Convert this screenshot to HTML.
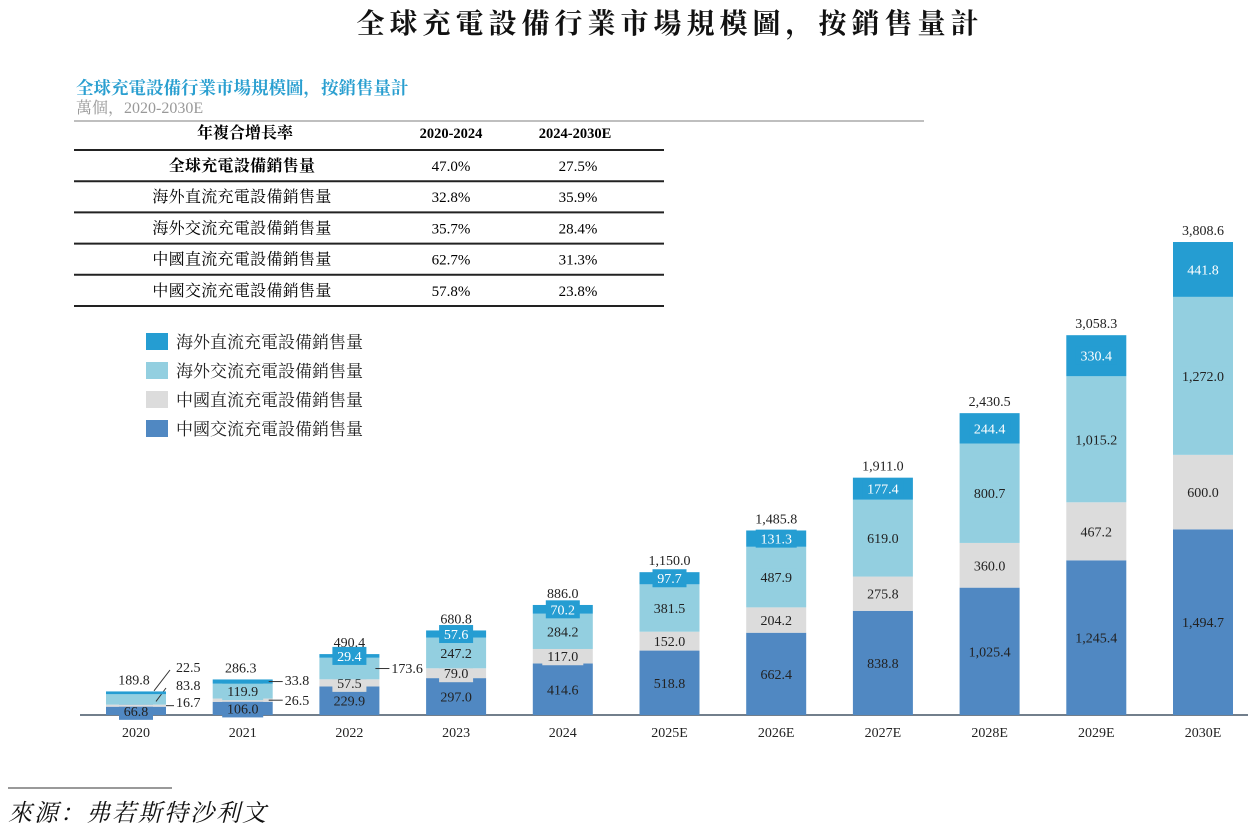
<!DOCTYPE html>
<html><head><meta charset="utf-8">
<style>
body{margin:0;background:#fff;width:1250px;height:832px;overflow:hidden;font-family:"Liberation Serif","Noto Serif CJK SC",serif;}
svg text{font-family:"Liberation Serif","Noto Serif CJK SC",serif;}
</style></head>
<body>
<svg id="c" width="1250" height="832">
<text x="670" y="33" text-anchor="middle" font-size="28" font-weight="bold" letter-spacing="5" fill="#111">全球充電設備行業市場規模圖，按銷售量計</text>
<text x="76" y="94" font-size="17.5" font-weight="bold" fill="#2a9fd0">全球充電設備行業市場規模圖，按銷售量計</text>
<text x="76" y="113" font-size="16" fill="#999">萬個，2020-2030E</text>
<line x1="74" y1="121" x2="924" y2="121" stroke="#aaa" stroke-width="1.5"/>
<g id="tbl"></g>
<g id="legend"></g>
<g id="bars"></g>
<line x1="8" y1="788" x2="172" y2="788" stroke="#333" stroke-width="1"/>
<text x="8" y="821" font-size="24" font-style="italic" letter-spacing="2" fill="#111">來源：弗若斯特沙利文</text>
</svg>
<script>
const years=["2020","2021","2022","2023","2024","2025E","2026E","2027E","2028E","2029E","2030E"];
const chinaAC=[66.8,106.0,229.9,297.0,414.6,518.8,662.4,838.8,1025.4,1245.4,1494.7];
const chinaDC=[16.7,26.5,57.5,79.0,117.0,152.0,204.2,275.8,360.0,467.2,600.0];
const overseasAC=[83.8,119.9,173.6,247.2,284.2,381.5,487.9,619.0,800.7,1015.2,1272.0];
const overseasDC=[22.5,33.8,29.4,57.6,70.2,97.7,131.3,177.4,244.4,330.4,441.8];
const totals=[189.8,286.3,490.4,680.8,886.0,1150.0,1485.8,1911.0,2430.5,3058.3,3808.6];
const seriesNames=["海外直流充電設備銷售量","海外交流充電設備銷售量","中國直流充電設備銷售量","中國交流充電設備銷售量"];
const tblRows=["全球充電設備銷售量","海外直流充電設備銷售量","海外交流充電設備銷售量","中國直流充電設備銷售量","中國交流充電設備銷售量"];
const cagr1=["47.0%","32.8%","35.7%","62.7%","57.8%"];
const cagr2=["27.5%","35.9%","28.4%","31.3%","23.8%"];
const NS="http://www.w3.org/2000/svg";
function mk(p,t,a,txt){const e=document.createElementNS(NS,t);for(const k in a)e.setAttribute(k,a[k]);if(txt!==undefined)e.textContent=txt;p.appendChild(e);return e;}
const fmt=v=>v.toLocaleString('en-US',{minimumFractionDigits:1,maximumFractionDigits:1});
const tb=document.getElementById('tbl');
mk(tb,'text',{x:245,y:138,'text-anchor':'middle','font-size':16,'font-weight':'bold'},"年複合增長率");
mk(tb,'text',{x:451,y:138,'text-anchor':'middle','font-size':14.5,'font-weight':'bold'},"2020-2024");
mk(tb,'text',{x:575,y:138,'text-anchor':'middle','font-size':14.5,'font-weight':'bold'},"2024-2030E");
for(let i=0;i<tblRows.length;i++){
  const ly=150+i*31.2;
  mk(tb,'line',{x1:74,y1:ly,x2:664,y2:ly,stroke:'#222','stroke-width':2});
  const ty=ly+21;
  const r=mk(tb,'text',{x:242,y:ty,'text-anchor':'middle','font-size':16,'letter-spacing':0.3,'font-weight':i==0?'bold':'normal'},tblRows[i]);
  
  
  mk(tb,'text',{x:451,y:ty,'text-anchor':'middle','font-size':15},cagr1[i]);
  mk(tb,'text',{x:578,y:ty,'text-anchor':'middle','font-size':15},cagr2[i]);
}
mk(tb,'line',{x1:74,y1:306,x2:664,y2:306,stroke:'#222','stroke-width':2});
const colors=["#259dd2","#93cfe0","#dcdcdc","#5088c2"];
const lg=document.getElementById('legend');
for(let i=0;i<4;i++){
  const y=333+i*29;
  const r=mk(lg,'rect',{x:146,y:y,width:22,height:17,fill:colors[i]});
  
  
  const t=mk(lg,'text',{x:176,y:y+15,'font-size':17,fill:'#222'},seriesNames[i]);
  
  
}
const base=715, maxV=3808.6, topY=242;
const yS=v=>(base-topY)/maxV*v;
const xC=i=>136+i*106.7;
const bw=60;
const g=document.getElementById('bars');
mk(g,'line',{x1:80,y1:base,x2:1248,y2:base,stroke:'#445566','stroke-width':1.5});
const order=[chinaAC,chinaDC,overseasAC,overseasDC];
const ocol=["#5088c2","#dcdcdc","#93cfe0","#259dd2"];
const onames=["china-ac","china-dc","overseas-ac","overseas-dc"];
const outside={"0-3":672,"0-2":690,"0-1":707,"1-3":685,"1-1":705,"2-2":673};
for(let i=0;i<years.length;i++){
  let cum=0;const cx=xC(i);
  for(let s=0;s<4;s++){
    const v=order[s][i];const h=yS(v);const y=base-yS(cum+v);
    const r=mk(g,'rect',{x:cx-bw/2,y:y,width:bw,height:h,fill:ocol[s]});
    
    
    const key=i+"-"+s;const mid=y+h/2;
    if(outside[key]!==undefined){
      const ly=outside[key];
      if(i==0&&s!=1){mk(g,'line',{x1:cx+(s==3?18:20),y1:mid+(s==3?-2:2),x2:cx+(s==3?34:30),y2:ly-2,stroke:'#333','stroke-width':1});}
      else if(i==0){mk(g,'line',{x1:cx+bw/2,y1:mid,x2:cx+bw/2+8,y2:mid,stroke:'#333','stroke-width':1});}
      else mk(g,'line',{x1:cx+bw/2-4,y1:mid,x2:cx+bw/2+10,y2:mid,stroke:'#333','stroke-width':1});
      mk(g,'text',{x:(i==0?cx+bw/2+10:cx+bw/2+12),y:ly,'font-size':14,fill:'#222'},fmt(v));
    }else{
      const tw=fmt(v).length*7+6;
      mk(g,'rect',{x:cx-tw/2,y:mid-9,width:tw,height:18,fill:ocol[s]});
      mk(g,'text',{x:cx,y:mid+5,'text-anchor':'middle','font-size':14,fill:s==3?'#fff':'#222'},fmt(v));
    }
    cum+=v;
  }
  const tl=mk(g,'text',{x:cx+(i<2?-2:0),y:base-yS(totals[i])-7,'text-anchor':'middle','font-size':14,fill:'#222'},fmt(totals[i]));
  
  
  const xl=mk(g,'text',{x:cx,y:base+22,'text-anchor':'middle','font-size':14,fill:'#222'},years[i]);
  
  
}
</script>
</body></html>
